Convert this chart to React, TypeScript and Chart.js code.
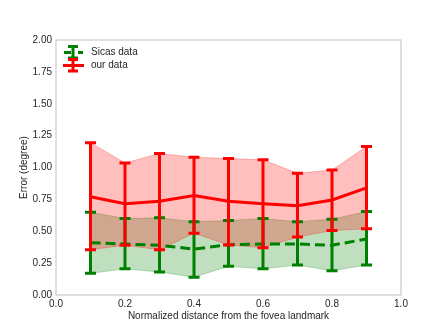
import React, { useEffect, useRef } from 'react';
import { Chart, registerables } from 'chart.js';
Chart.register(...registerables);

const xPositions = [0.1, 0.2, 0.3, 0.4, 0.5, 0.6, 0.7, 0.8, 0.9];
const sicasMean = [0.41, 0.40, 0.39, 0.36, 0.395, 0.40, 0.40, 0.39, 0.44];
const sicasLower = [0.17, 0.205, 0.18, 0.14, 0.225, 0.205, 0.235, 0.19, 0.235];
const sicasUpper = [0.65, 0.60, 0.605, 0.575, 0.585, 0.60, 0.575, 0.595, 0.655];
const ourMean = [0.77, 0.715, 0.735, 0.78, 0.735, 0.715, 0.70, 0.745, 0.84];
const ourLower = [0.355, 0.39, 0.355, 0.485, 0.393, 0.37, 0.455, 0.505, 0.52];
const ourUpper = [1.195, 1.035, 1.11, 1.08, 1.07, 1.06, 0.955, 0.98, 1.165];
const seriesNames = ['Sicas data', 'our data'];

const GREEN = '#008000';
const RED = '#ff0000';
const TEXT = '#262626';
const FONT = '"Liberation Sans", Arial, sans-serif';

const pts = (ys: number[]) => xPositions.map((x, i) => ({ x, y: ys[i] }));

export default function App() {
  const ref = useRef<HTMLCanvasElement>(null);
  useEffect(() => {
    const canvas = ref.current!;
    const bars: Record<number, { lo: number[]; hi: number[]; color: string }> = {
      4: { lo: sicasLower, hi: sicasUpper, color: GREEN },
      5: { lo: ourLower, hi: ourUpper, color: RED },
    };
    const errorBarPlugin = {
      id: 'errbars',
      afterDatasetDraw(chart: any, args: any) {
        const b = bars[args.index];
        if (!b) return;
        const { ctx, scales } = chart;
        const xs = scales.x, ys = scales.y;
        ctx.save();
        ctx.strokeStyle = b.color;
        ctx.lineWidth = 3;
        ctx.setLineDash([]);
        xPositions.forEach((x, i) => {
          const px = xs.getPixelForValue(x);
          const y1 = ys.getPixelForValue(b.lo[i]);
          const y2 = ys.getPixelForValue(b.hi[i]);
          ctx.beginPath();
          ctx.moveTo(px, y1);
          ctx.lineTo(px, y2);
          ctx.moveTo(px - 5.5, y1);
          ctx.lineTo(px + 5.5, y1);
          ctx.moveTo(px - 5.5, y2);
          ctx.lineTo(px + 5.5, y2);
          ctx.stroke();
        });
        ctx.restore();
      },
    };
    const framePlugin = {
      id: 'frame',
      afterDraw(chart: any) {
        const { ctx, chartArea: a } = chart;
        ctx.save();
        ctx.strokeStyle = '#cccccc';
        ctx.lineWidth = 1.25;
        ctx.strokeRect(a.left, a.top, a.right - a.left, a.bottom - a.top);
        // legend
        const entries = [
          { color: GREEN, dash: true, y: 52 },
          { color: RED, dash: false, y: 65 },
        ];
        entries.forEach((e, i) => {
          const cx = 73;
          ctx.strokeStyle = e.color;
          ctx.lineWidth = 3;
          ctx.beginPath();
          if (e.dash) {
            ctx.moveTo(64, e.y + 0.5);
            ctx.lineTo(71, e.y + 0.5);
            ctx.moveTo(78, e.y + 0.5);
            ctx.lineTo(83, e.y + 0.5);
          } else {
            ctx.moveTo(63, e.y + 0.5);
            ctx.lineTo(84, e.y + 0.5);
          }
          ctx.moveTo(cx, e.y - 5.5);
          ctx.lineTo(cx, e.y + 6);
          ctx.moveTo(cx - 5, e.y - 5.5);
          ctx.lineTo(cx + 5, e.y - 5.5);
          ctx.moveTo(cx - 5, e.y + 6);
          ctx.lineTo(cx + 5, e.y + 6);
          ctx.stroke();
          ctx.fillStyle = TEXT;
          ctx.font = `10px ${FONT}`;
          ctx.textBaseline = 'middle';
          ctx.textAlign = 'left';
          ctx.fillText(seriesNames[i], 91, e.y + 0.5);
        });
        ctx.restore();
      },
    };
    const edge = (c: string) => ({ borderColor: c, borderWidth: 1, pointRadius: 0 });
    const chart = new Chart(canvas, {
      type: 'line',
      data: {
        datasets: [
          { label: 'sl', data: pts(sicasLower), fill: false, ...edge('rgba(0,128,0,0.25)'), order: 6 },
          { label: 'su', data: pts(sicasUpper), fill: 0, backgroundColor: 'rgba(0,128,0,0.25)', ...edge('rgba(0,128,0,0.25)'), order: 5 },
          { label: 'ol', data: pts(ourLower), fill: false, ...edge('rgba(255,0,0,0.25)'), order: 4 },
          { label: 'ou', data: pts(ourUpper), fill: 2, backgroundColor: 'rgba(255,0,0,0.25)', ...edge('rgba(255,0,0,0.25)'), order: 3 },
          { label: seriesNames[0], data: pts(sicasMean), fill: false, borderColor: GREEN, borderWidth: 3, borderDash: [10, 5], pointRadius: 0, order: 2 },
          { label: seriesNames[1], data: pts(ourMean), fill: false, borderColor: RED, borderWidth: 3, pointRadius: 0, order: 1 },
        ],
      },
      options: {
        animation: false,
        responsive: true,
        maintainAspectRatio: false,
        layout: { padding: { top: 40, right: 42, left: 0, bottom: 0 } },
        plugins: { legend: { display: false }, tooltip: { enabled: false } },
        scales: {
          x: {
            type: 'linear',
            min: 0,
            max: 1,
            grid: { display: false, drawTicks: false },
            border: { display: false },
            ticks: { stepSize: 0.2, padding: 3, color: TEXT, font: { size: 10, family: FONT }, callback: (v: any) => Number(v).toFixed(1) },
            title: { display: true, text: 'Normalized distance from the fovea landmark', color: TEXT, font: { size: 10, family: FONT }, padding: { top: 0, bottom: 10 } },
            afterFit: (s: any) => { s.height = 37; },
          },
          y: {
            type: 'linear',
            min: 0,
            max: 2,
            grid: { display: false, drawTicks: false },
            border: { display: false },
            ticks: { stepSize: 0.25, padding: 4, color: TEXT, font: { size: 10, family: FONT }, callback: (v: any) => Number(v).toFixed(2) },
            title: { display: true, text: 'Error (degree)', color: TEXT, font: { size: 10, family: FONT }, padding: { top: 18, bottom: 0 } },
            afterFit: (s: any) => { s.width = 56; },
          },
        },
      },
      plugins: [errorBarPlugin, framePlugin],
    });
    return () => chart.destroy();
  }, []);
  return (
    <div style={{ position: 'fixed', left: 0, top: 0, width: 443, height: 332, background: '#fff' }}>
      <canvas ref={ref} />
    </div>
  );
}
